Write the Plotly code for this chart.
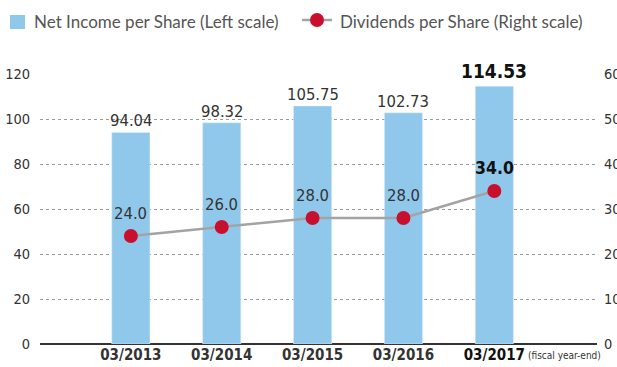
import plotly.graph_objects as go

# Fiscal years and per-share figures
years = ["03/2013", "03/2014", "03/2015", "03/2016", "03/2017"]
net_income = [94.04, 98.32, 105.75, 102.73, 114.53]
dividends = [24.0, 26.0, 28.0, 28.0, 34.0]
left_ticks = [0, 20, 40, 60, 80, 100, 120]
right_ticks = [0, 10, 20, 30, 40, 50, 60]
legend_names = ["Net Income per Share (Left scale)",
                "Dividends per Share (Right scale)"]

COND = "DejaVu Sans Condensed, DejaVu Sans, sans-serif"
LEG = "Lato, sans-serif"
BAR = "#90C8EC"
RED = "#C8102E"
GREY_LINE = "#A3A3A3"
TXT = "#333333"

W, H = 617, 367
ML, MR, MT, MB = 40, 20, 74, 23
PW, PH = W - ML - MR, H - MT - MB


def px_x(x):
    return (x - ML) / PW


def px_y(y):
    return (H - MB - y) / PH


xs = list(range(len(years)))

fig = go.Figure()
fig.add_trace(go.Bar(
    x=xs, y=net_income, width=0.42, marker_color=BAR,
    name=legend_names[0], yaxis="y", showlegend=False,
))
fig.add_trace(go.Scatter(
    x=xs, y=dividends, mode="lines+markers", yaxis="y2",
    line=dict(color=GREY_LINE, width=2.5),
    marker=dict(color=RED, size=14),
    name=legend_names[1], showlegend=False, cliponaxis=False,
))

last = len(years) - 1
annotations = []
for i, v in enumerate(net_income):
    bold = i == last
    annotations.append(dict(
        x=i, y=v, xref="x", yref="y", yanchor="bottom",
        yshift=2 if bold else 0,
        text=(f"<b>{v:.2f}</b>" if bold else f"{v:.2f}"), showarrow=False,
        font=dict(family=COND, size=19 if bold else 16.5,
                  color="#111111" if bold else TXT),
    ))
for i, v in enumerate(dividends):
    bold = i == last
    annotations.append(dict(
        x=i, y=v, xref="x", yref="y2", yanchor="bottom", yshift=11,
        text=(f"<b>{v:.1f}</b>" if bold else f"{v:.1f}"), showarrow=False,
        font=dict(family=COND, size=17.5 if bold else 16.5,
                  color="#111111" if bold else TXT),
    ))
annotations.append(dict(
    x=last, y=0, xref="x", yref="y", xanchor="left", yanchor="top",
    xshift=32, yshift=-4, text="(fiscal year-end)", showarrow=False,
    font=dict(family=COND, size=10, color=TXT),
))

# Legend drawn by hand across the top
shapes = [
    dict(type="rect", xref="paper", yref="paper",
         x0=px_x(10), x1=px_x(25), y0=px_y(29), y1=px_y(15),
         fillcolor=BAR, line=dict(width=0)),
    dict(type="line", xref="paper", yref="paper",
         x0=px_x(302), x1=px_x(332), y0=px_y(20), y1=px_y(20),
         line=dict(color=GREY_LINE, width=2.5)),
    dict(type="circle", xref="paper", yref="paper",
         x0=px_x(310), x1=px_x(324), y0=px_y(27), y1=px_y(13),
         fillcolor=RED, line=dict(width=0)),
]
annotations.append(dict(
    x=px_x(32), y=px_y(21), xref="paper", yref="paper", xanchor="left",
    yanchor="middle", text=legend_names[0], showarrow=False,
    font=dict(family=LEG, size=17, color="#555555"),
))
annotations.append(dict(
    x=px_x(338), y=px_y(21), xref="paper", yref="paper", xanchor="left",
    yanchor="middle", text=legend_names[1], showarrow=False,
    font=dict(family=LEG, size=17, color="#555555"),
))

ticktext = [f"<b>{y}</b>" for y in years]
ticktext[last] = f"<b><span style='color:#111111'>{years[last]}</span></b>"

fig.update_layout(
    width=W, height=H,
    margin=dict(l=ML, r=MR, t=MT, b=MB),
    paper_bgcolor="white", plot_bgcolor="white",
    showlegend=False,
    xaxis=dict(range=[-1.0, 5.13], tickvals=xs, ticktext=ticktext,
               showgrid=False, zeroline=False, showline=False, ticks="",
               automargin=False,
               tickfont=dict(family=COND, size=15, color=TXT)),
    yaxis=dict(range=[0, 120], tickvals=left_ticks, showgrid=True,
               gridcolor="#9A9A9A", griddash="3px,3px", gridwidth=1,
               zeroline=True, zerolinecolor="#333333", zerolinewidth=1.5,
               ticks="outside", ticklen=6, tickcolor="rgba(0,0,0,0)",
               automargin=False,
               tickfont=dict(family=COND, size=14.5, color=TXT)),
    yaxis2=dict(range=[0, 60], tickvals=right_ticks, overlaying="y",
                side="right", showgrid=False, zeroline=False,
                ticks="outside", ticklen=3, tickcolor="rgba(0,0,0,0)",
                automargin=False,
                tickfont=dict(family=COND, size=14.5, color=TXT)),
    annotations=annotations,
    shapes=shapes,
)

fig.write_html("out.html")
